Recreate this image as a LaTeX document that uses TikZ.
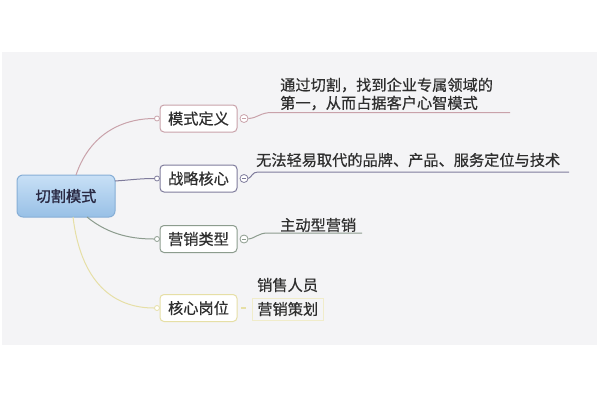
\documentclass[tikz,border=0pt]{standalone}
\usepackage{fontspec}
\setmainfont{Noto Sans CJK SC}[FakeBold=0.5]
\newfontfamily\rootfont{Noto Sans CJK SC}[FakeBold=1.4]
\definecolor{panel}{HTML}{F4F4F6}
\definecolor{txt}{HTML}{2E2E2E}
\definecolor{cpink}{HTML}{C9A2AA}
\definecolor{cpurple}{HTML}{7F7C9C}
\definecolor{cgreen}{HTML}{8C9C8E}
\definecolor{cyellow}{HTML}{E6DFA6}
\definecolor{rtop}{HTML}{C8E0F6}
\definecolor{rbot}{HTML}{98C0E6}
\definecolor{rborder}{HTML}{86AED6}
\tikzset{
  txtfont/.style={font=\fontsize{15.2}{18}\selectfont, text=txt},
  rootbox/.style={font=\rootfont\fontsize{15.2}{18}\selectfont, text=txt!90!blue, rounded corners=6pt, draw=rborder, line width=1pt, top color=rtop, bottom color=rbot, minimum width=98pt, minimum height=42pt, inner sep=0pt},
  childbox/.style={txtfont, rounded corners=4pt, draw=#1, line width=1pt, fill=white, minimum width=77pt, minimum height=27pt, inner sep=0pt},
  knob/.style={circle, draw=#1, line width=0.8pt, fill=white, minimum size=5pt, inner sep=0pt},
  minusknob/.style={circle, draw=#1, line width=0.8pt, fill=white, minimum size=8pt, inner sep=0pt, path picture={\draw[#1, line width=0.7pt] ([xshift=-2pt]path picture bounding box.center) -- ([xshift=2pt]path picture bounding box.center);}},
  leaf/.style={txtfont, inner sep=0pt, anchor=west},
  link/.style={line width=1pt, draw=#1},
}
\begin{document}
\begin{tikzpicture}[x=1pt,y=-1pt]
\useasboundingbox (0,0) rectangle (600,400);
\fill[white] (0,0) rectangle (600,400);
\fill[panel] (2,52) rectangle (597,345);

% root
\node[rootbox] (root) at (66,196) {切割模式};

% children
\node[childbox=cpink] (c1) at (198.5,118.5) {模式定义};
\node[childbox=cpurple] (c2) at (198.5,178.5) {战略核心};
\node[childbox=cgreen] (c3) at (198.5,239) {营销类型};
\node[childbox=cyellow] (c4) at (198.5,308) {核心岗位};

% left knobs
\node[knob=cpink] (l1) at (157,118.5) {};
\node[knob=cpurple] (l2) at (157,178.5) {};
\node[knob=cgreen] (l3) at (157,239) {};
\node[knob=cyellow] (l4) at (157,308) {};

% right knobs
\node[minusknob=cpink] (r1) at (244,118.5) {};
\node[minusknob=cpurple] (r2) at (244,178.5) {};
\node[minusknob=cgreen] (r3) at (244,239) {};
\coordinate (d1) at (241,308);
\coordinate (d2) at (246,308);

% root connectors
\coordinate (s1) at (76,175);
\coordinate (s2) at (115,181);
\coordinate (s3) at (87,217);
\coordinate (s4) at (73,217);
\draw[link=cpink] (s1) .. controls (92,128) and (130,118.5) .. (l1.west);
\draw[link=cpurple] (s2) .. controls (130,180) and (140,178.5) .. (l2.west);
\draw[link=cgreen] (s3) .. controls (110,236) and (135,239) .. (l3.west);
\draw[link=cyellow] (s4) .. controls (82,290) and (120,308) .. (l4.west);

% leaves
\node[leaf] (t1a) at (280,85) {通过切割，找到企业专属领域的};
\node[leaf] (t1b) at (280,103) {第一，从而占据客户心智模式};
\coordinate (u1a) at (272,112.5);
\coordinate (u1b) at (510,112.5);
\draw[link=cpink] (r1.east) .. controls (258,118) and (260,112.5) .. (u1a) -- (u1b);

\node[leaf] (t2) at (256,160) {无法轻易取代的品牌、产品、服务定位与技术};
\coordinate (u2a) at (258,172);
\coordinate (u2b) at (569,172);
\draw[link=cpurple] (r2.east) .. controls (252,177) and (252,172) .. (u2a) -- (u2b);

\node[leaf] (t3) at (280,225) {主动型营销};
\coordinate (u3a) at (268,233);
\coordinate (u3b) at (362,233);
\draw[link=cgreen] (r3.east) .. controls (256,238) and (258,233) .. (u3a) -- (u3b);

\draw[link=cyellow, line width=1.2pt] (d1) -- (d2);
\node[leaf] (t4a) at (257,285) {销售人员};
\node[leaf, draw=cyellow!60, line width=0.8pt, inner xsep=5pt, inner ysep=4pt] (t4b) at (252,309) {营销策划};
\end{tikzpicture}
\end{document}
